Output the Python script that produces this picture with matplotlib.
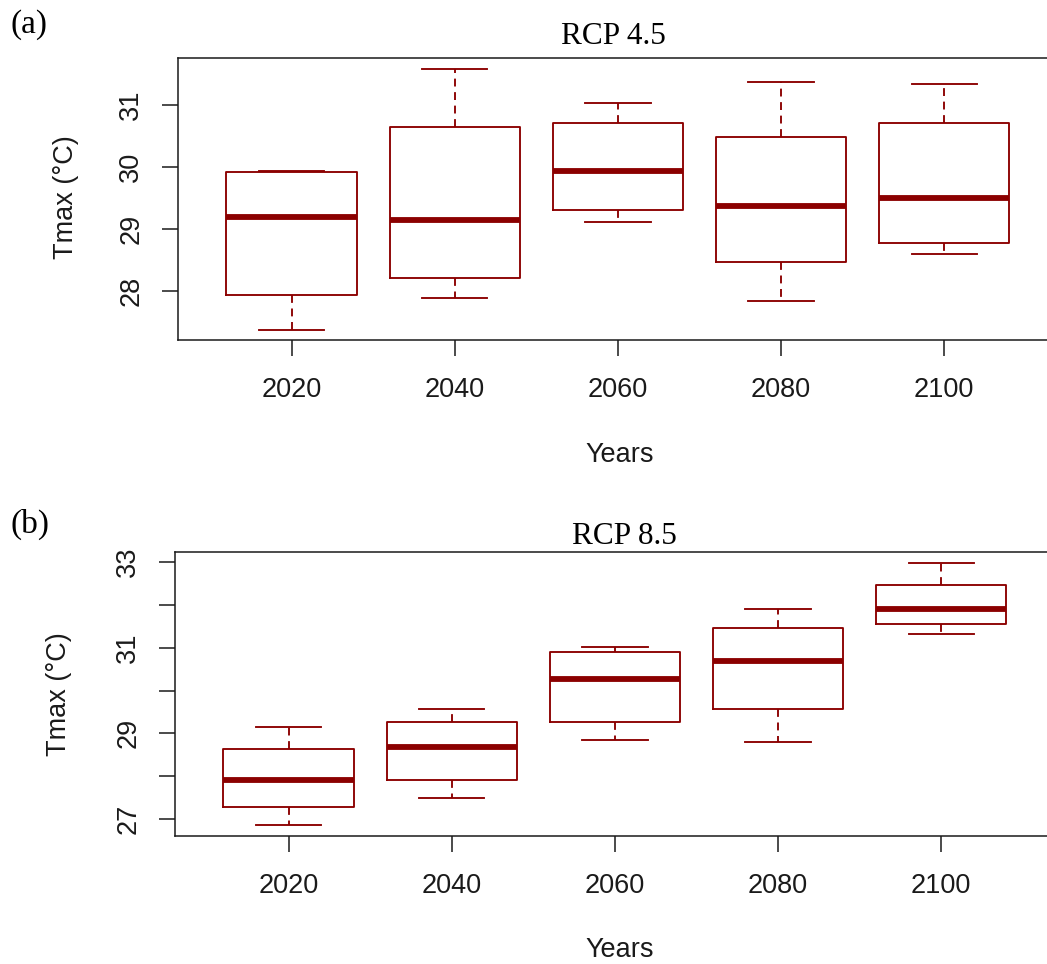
import matplotlib
matplotlib.use("Agg")
import matplotlib.pyplot as plt

# Decades on the x axis
years = ["2020", "2040", "2060", "2080", "2100"]

# RCP 4.5 box statistics (Tmax, °C)
rcp45_low = [27.38, 27.89, 29.12, 27.84, 28.60]
rcp45_q1 = [27.94, 28.22, 29.31, 28.47, 28.77]
rcp45_med = [29.20, 29.14, 29.94, 29.37, 29.50]
rcp45_q3 = [29.92, 30.65, 30.70, 30.48, 30.70]
rcp45_high = [29.93, 31.58, 31.03, 31.36, 31.33]

# RCP 8.5 box statistics (Tmax, °C)
rcp85_low = [26.85, 27.48, 28.84, 28.80, 31.31]
rcp85_q1 = [27.29, 27.92, 29.27, 29.56, 31.55]
rcp85_med = [27.92, 28.68, 30.28, 30.68, 31.91]
rcp85_q3 = [28.64, 29.27, 30.91, 31.47, 32.47]
rcp85_high = [29.16, 29.56, 31.02, 31.91, 32.98]

W, H = 1047, 964
DPI = 100
BOX = "#8B0000"
AXC = "#1a1a1a"
SANS = "Liberation Sans"
SERIF = "Liberation Serif"

fig = plt.figure(figsize=(W / DPI, H / DPI), dpi=DPI)
fig.patch.set_facecolor("white")


def fx(px):
    return px / W


def fy(py):
    return 1 - py / H


def panel(rect, low, q1, med, q3, high, yticks, ylabels):
    ax = fig.add_axes(rect)
    stats = [
        dict(whislo=a, q1=b, med=c, q3=d, whishi=e, fliers=[])
        for a, b, c, d, e in zip(low, q1, med, q3, high)
    ]
    lw = 1.35
    ax.bxp(
        stats,
        positions=range(1, len(stats) + 1),
        widths=0.8,
        capwidths=0.4,
        showfliers=False,
        boxprops=dict(color=BOX, linewidth=lw),
        medianprops=dict(color=BOX, linewidth=4.2, solid_capstyle="butt"),
        whiskerprops=dict(color=BOX, linewidth=lw, linestyle=(0, (4.2, 3.0))),
        capprops=dict(color=BOX, linewidth=lw),
    )
    lo, hi = min(low), max(high)
    pad = (hi - lo) * 0.04
    ax.set_ylim(lo - pad, hi + pad)
    ax.set_xlim(0.3, len(stats) + 0.7)
    ax.set_xticks(range(1, len(stats) + 1))
    ax.set_xticklabels(years, fontfamily=SANS, fontsize=19.5, color=AXC)
    ax.set_yticks(yticks)
    ax.set_yticklabels(ylabels, fontfamily=SANS, fontsize=19.5, color=AXC,
                       rotation=90, va="center")
    ax.tick_params(axis="both", direction="out", length=11.5, width=1.1,
                   color=AXC)
    ax.tick_params(axis="x", pad=15)
    ax.tick_params(axis="y", pad=12.5)
    for s in ax.spines.values():
        s.set_linewidth(1.1)
        s.set_color(AXC)
    return ax


# Upper panel: RCP 4.5
ax1 = panel([fx(177.5), fy(340.3), fx(1058.4 - 177.5), (340.3 - 58.3) / H],
            rcp45_low, rcp45_q1, rcp45_med, rcp45_q3, rcp45_high,
            [28, 29, 30, 31], ["28", "29", "30", "31"])

# Lower panel: RCP 8.5
ax2 = panel([fx(174.5), fy(836.0), fx(1058.4 - 177.5), (836.0 - 552.3) / H],
            rcp85_low, rcp85_q1, rcp85_med, rcp85_q3, rcp85_high,
            [27, 28, 29, 30, 31, 32, 33],
            ["27", "", "29", "", "31", "", "33"])

# Panel letters and scenario titles
fig.text(fx(11), fy(33), "(a)", fontfamily=SERIF, fontsize=24,
         ha="left", va="baseline", color="black")
fig.text(fx(11), fy(533), "(b)", fontfamily=SERIF, fontsize=24,
         ha="left", va="baseline", color="black")
fig.text(fx(613), fy(44), "RCP 4.5", fontfamily=SERIF, fontsize=22.5,
         ha="center", va="baseline", color="black")
fig.text(fx(624), fy(544), "RCP 8.5", fontfamily=SERIF, fontsize=22.5,
         ha="center", va="baseline", color="black")

# Axis titles
fig.text(fx(66), fy(197), "Tmax (°C)", fontfamily=SANS, fontsize=19.5,
         rotation=90, ha="center", va="center", color=AXC)
fig.text(fx(59), fy(694), "Tmax (°C)", fontfamily=SANS, fontsize=19.5,
         rotation=90, ha="center", va="center", color=AXC)
fig.text(fx(620), fy(455), "Years", fontfamily=SANS, fontsize=19.5,
         ha="center", va="center", color=AXC)
fig.text(fx(620), fy(950), "Years", fontfamily=SANS, fontsize=19.5,
         ha="center", va="center", color=AXC)

fig.savefig("out.png", dpi=DPI, facecolor="white")
